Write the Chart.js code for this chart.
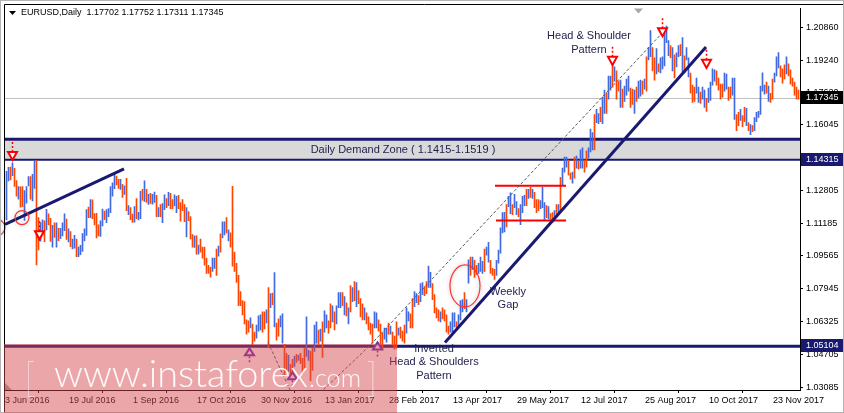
<!DOCTYPE html>
<html>
<head>
<meta charset="utf-8">
<script src="https://cdn.jsdelivr.net/npm/chart.js@4.4.1/dist/chart.umd.min.js"></script>
<style>
  html, body { margin: 0; padding: 0; background: #fff; }
  canvas { display: block; }
</style>
</head>
<body>
<canvas id="chart" width="844" height="413"></canvas>
<script>
// EURUSD daily bars, 3 Jun 2016 .. 11 Dec 2017 (one entry per trading day)
const highs = [
  1.1374,1.1394,1.1395,1.1416,1.1389,1.1328,1.1299,1.1298,1.1299,1.1279,1.1299,1.1348,1.1348,1.1359,1.1427,1.1427,1.1146,1.1121,1.1135,1.1129,
  1.1186,1.1164,1.1142,1.1107,1.1120,1.1120,1.1093,1.1092,1.1120,1.1164,1.1138,1.1090,1.1076,1.1040,1.1058,1.1040,1.1000,1.1009,1.1066,1.1090,1.1185,
  1.1198,1.1234,1.1233,1.1165,1.1167,1.1110,1.1129,1.1187,1.1178,1.1185,1.1190,1.1299,1.1317,1.1366,1.1351,1.1334,1.1335,1.1310,1.1303,1.1340,1.1205,1.1195,1.1163,
  1.1200,1.1240,1.1171,1.1275,1.1285,1.1327,1.1285,1.1260,1.1265,1.1260,1.1272,1.1255,1.1195,1.1210,1.1215,1.1258,1.1240,1.1270,1.1265,1.1235,1.1258,1.1250,
  1.1255,1.1220,1.1235,1.1210,1.1195,1.1175,1.1150,1.1062,1.1055,1.1055,1.1010,1.1040,1.1000,1.1000,1.0945,1.0910,1.0900,1.0945,1.0945,1.0990,1.1005,
  1.1065,1.1125,1.1125,1.1145,1.1085,1.1070,1.1300,1.0975,1.0920,1.0860,1.0780,1.0735,1.0730,1.0640,1.0635,1.0650,1.0620,1.0580,1.0615,1.0660,1.0665,1.0680,
  1.0680,1.0690,1.0800,1.0770,1.0772,1.0874,1.0625,1.0645,1.0660,1.0670,1.0520,1.0475,1.0465,1.0420,1.0445,1.0460,1.0470,1.0465,1.0475,1.0450,1.0500,1.0655,
  1.0490,1.0485,1.0500,1.0615,1.0630,1.0590,1.0595,1.0630,1.0685,1.0665,1.0635,1.0720,1.0710,1.0680,1.0710,1.0775,1.0775,1.0775,1.0755,1.0725,1.0700,1.0810,
  1.0800,1.0829,1.0825,1.0785,1.0745,1.0720,1.0700,1.0675,1.0655,1.0625,1.0620,1.0680,1.0675,1.0640,1.0620,1.0575,1.0600,1.0600,1.0625,1.0610,
  1.0580,1.0560,1.0630,1.0600,1.0605,1.0585,1.0615,1.0700,1.0680,1.0670,1.0745,1.0780,1.0770,1.0760,1.0820,1.0825,1.0805,1.0830,1.0906,1.0875,1.0820,1.0765,1.0700,
  1.0690,1.0680,1.0700,1.0690,1.0665,1.0610,1.0630,1.0675,1.0675,1.0630,1.0665,1.0735,1.0740,1.0775,1.0740,1.0937,1.0950,1.0950,1.0935,1.0910,
  1.0920,1.0950,1.0930,1.0990,1.1000,1.1023,1.0935,1.0895,1.0890,1.0935,1.0985,1.1095,1.1170,1.1172,1.1210,1.1250,1.1268,1.1210,1.1260,1.1225,1.1190,1.1210,
  1.1250,1.1255,1.1285,1.1285,1.1295,1.1285,1.1270,1.1235,1.1235,1.1230,1.1295,1.1220,1.1205,1.1200,1.1165,1.1170,1.1180,1.1210,1.1210,1.1345,1.1390,1.1445,
  1.1445,1.1430,1.1365,1.1370,1.1445,1.1450,1.1425,1.1480,1.1490,1.1430,1.1475,1.1490,1.1583,1.1565,1.1655,1.1680,1.1660,1.1690,1.1740,1.1775,1.1760,
  1.1845,1.1845,1.1910,1.1890,1.1870,1.1820,1.1825,1.1780,1.1795,1.1830,1.1845,1.1785,1.1780,1.1775,1.1790,1.1820,1.1825,1.1820,1.1830,1.1940,1.1985,1.2070,1.1985,
  1.1935,1.1980,1.1905,1.1935,1.1940,1.2060,1.2092,1.2020,1.1995,1.1985,1.1950,1.1960,1.1995,1.2000,1.2035,1.1945,1.1985,1.1935,1.1860,1.1800,1.1790,
  1.1835,1.1790,1.1765,1.1790,1.1775,1.1735,1.1785,1.1815,1.1880,1.1875,1.1870,1.1835,1.1805,1.1805,1.1860,1.1855,1.1790,1.1790,1.1835,1.1835,1.1655,1.1665,
  1.1680,1.1650,1.1690,1.1685,1.1615,1.1605,1.1600,1.1640,1.1665,1.1670,1.1795,1.1861,1.1800,1.1815,1.1795,1.1760,1.1830,1.1860,1.1940,1.1961,1.1895,1.1880,
  1.1900,1.1940,1.1905,1.1875,1.1835,1.1815,1.1790,1.17752
];
const lows = [
  1.1134,1.1327,1.1332,1.1353,1.1300,1.1251,1.1236,1.1197,1.1199,1.1131,1.1217,1.1302,1.1237,1.1228,1.1290,1.0912,1.0986,1.1029,1.1061,1.1027,
  1.1085,1.1109,1.1028,1.1000,1.1048,1.0999,1.1032,1.1041,1.1055,1.1081,1.1038,1.1025,1.1002,1.0991,1.0995,1.0952,1.0953,1.0962,1.0978,1.1030,1.1057,
  1.1145,1.1145,1.1140,1.1109,1.1045,1.1055,1.1053,1.1104,1.1135,1.1120,1.1150,1.1170,1.1251,1.1288,1.1307,1.1290,1.1285,1.1245,1.1260,1.1180,1.1160,1.1135,1.1122,
  1.1123,1.1140,1.1134,1.1140,1.1230,1.1225,1.1220,1.1210,1.1215,1.1212,1.1220,1.1150,1.1150,1.1150,1.1120,1.1185,1.1195,1.1205,1.1190,1.1190,1.1203,1.1170,
  1.1190,1.1128,1.1180,1.1125,1.1050,1.1130,1.1040,1.1000,1.0998,1.0965,1.0965,1.0975,1.0945,1.0910,1.0870,1.0870,1.0851,1.0880,1.0895,1.0860,1.0955,
  1.0975,1.1045,1.1060,1.1070,1.1030,1.1000,1.0905,1.0880,1.0825,1.0710,1.0710,1.0665,1.0620,1.0570,1.0580,1.0600,1.0518,1.0535,1.0550,1.0585,1.0590,1.0580,
  1.0595,1.0625,1.0505,1.0700,1.0715,1.0605,1.0540,1.0560,1.0605,1.0525,1.0365,1.0395,1.0385,1.0352,1.0370,1.0410,1.0430,1.0440,1.0425,1.0375,1.0400,1.0460,
  1.0440,1.0340,1.0390,1.0485,1.0525,1.0515,1.0535,1.0455,1.0580,1.0600,1.0575,1.0600,1.0630,1.0590,1.0620,1.0700,1.0700,1.0710,1.0665,1.0660,1.0620,1.0680,
  1.0730,1.0735,1.0705,1.0720,1.0655,1.0640,1.0640,1.0620,1.0590,1.0570,1.0525,1.0600,1.0600,1.0585,1.0520,1.0494,1.0545,1.0530,1.0570,1.0570,
  1.0515,1.0495,1.0500,1.0565,1.0550,1.0535,1.0525,1.0575,1.0635,1.0600,1.0600,1.0705,1.0725,1.0715,1.0730,1.0765,1.0760,1.0770,1.0800,1.0800,1.0740,1.0675,1.0650,
  1.0635,1.0630,1.0645,1.0635,1.0580,1.0570,1.0580,1.0580,1.0605,1.0600,1.0600,1.0640,1.0680,1.0695,1.0680,1.0821,1.0860,1.0890,1.0850,1.0865,
  1.0870,1.0880,1.0870,1.0880,1.0960,1.0925,1.0870,1.0860,1.0840,1.0860,1.0920,1.0970,1.1070,1.1075,1.1100,1.1200,1.1165,1.1160,1.1195,1.1160,1.1150,1.1110,
  1.1170,1.1205,1.1205,1.1240,1.1245,1.1240,1.1195,1.1170,1.1180,1.1190,1.1195,1.1130,1.1145,1.1140,1.1120,1.1120,1.1140,1.1150,1.1170,1.1180,1.1305,1.1370,
  1.1395,1.1355,1.1335,1.1315,1.1340,1.1390,1.1385,1.1390,1.1390,1.1370,1.1395,1.1440,1.1470,1.1480,1.1480,1.1615,1.1610,1.1620,1.1610,1.1660,1.1660,
  1.1730,1.1775,1.1790,1.1820,1.1730,1.1770,1.1690,1.1690,1.1720,1.1750,1.1770,1.1690,1.1705,1.1660,1.1720,1.1735,1.1745,1.1755,1.1780,1.1770,1.1925,1.1940,1.1870,
  1.1825,1.1855,1.1865,1.1860,1.1880,1.1895,1.2010,1.1945,1.1935,1.1870,1.1835,1.1890,1.1940,1.1945,1.1865,1.1860,1.1925,1.1840,1.1760,1.1715,1.1720,
  1.1760,1.1715,1.1710,1.1730,1.1690,1.1670,1.1715,1.1725,1.1800,1.1820,1.1800,1.1775,1.1730,1.1740,1.1770,1.1780,1.1725,1.1735,1.1750,1.1630,1.1575,1.1600,
  1.1625,1.1595,1.1620,1.1600,1.1575,1.1555,1.1570,1.1575,1.1620,1.1640,1.1655,1.1770,1.1755,1.1760,1.1720,1.1715,1.1730,1.1815,1.1845,1.1885,1.1840,1.1810,
  1.1830,1.1855,1.1845,1.1805,1.1795,1.1750,1.1730,1.17311
];
// u = bull bar (close above open), d = bear bar
const barDirs = [
  'uududdudduuuduudduud', 'uddududuuududuuduuuuu', 'dudddduuduuuuuddudududd',
  'uduudududuududuududduu', 'ddddudddududddddduudud', 'uududdddddddddudduuudd',
  'udududduudduddududdduu', 'dduududuudduduuudududu', 'dudddudddduuddduudud',
  'dduddduudduuduudduudddd', 'udddduuuduuuduududdu', 'uuduuddduuuuuduuduuduu',
  'udududdduuududdududuuu', 'ddududuudduuuduuduudu', 'ududduduuudduduududuudd',
  'uduuuuududuududuudddu', 'uduuduuuudddduudduuddu', 'ddududuuuuuududduuuddd',
  'uddddddd'
].join('');

const dateLabels = ['3 Jun 2016', '19 Jul 2016', '1 Sep 2016', '17 Oct 2016', '30 Nov 2016', '13 Jan 2017',
  '28 Feb 2017', '13 Apr 2017', '29 May 2017', '12 Jul 2017', '25 Aug 2017', '10 Oct 2017', '23 Nov 2017'];
const dateTickIdx = [0, 32, 64, 96, 128, 160, 192, 224, 256, 288, 320, 352, 384];
const priceTicks = [1.03085, 1.04705, 1.06325, 1.07945, 1.09565, 1.11185, 1.12805, 1.14425, 1.16045, 1.17620, 1.19240, 1.20860];

const titleText = 'EURUSD,Daily  1.17702 1.17752 1.17311 1.17345';
const lastPrice = 1.17345;
const supportLevel = 1.05104;
const zoneTop = 1.1533;
const zoneBottom = 1.14315;
const zoneText = 'Daily Demand Zone ( 1.1415-1.1519 )';

// drawn objects, as [bar index, price]
const trendLow = [[-0.75, 1.11115], [58.75, 1.13858]];
const trendUp = [[219.25, 1.05288], [349.75, 1.19880]];
const channelLine = [[156.75, 1.0279], [181.75, 1.05141], [327.75, 1.20566]];
const cupLine = [[130.75, 1.05288], [141.75, 1.0294]];
const boxTop = [[244.25, 1.13025], [279.75, 1.13025]];
const boxBottom = [[244.75, 1.11311], [279.75, 1.11311]];
const downArrows = [[2.75, 1.14298], [16.25, 1.10381], [302.75, 1.19000], [327.75, 1.20419], [349.75, 1.18852]];
const upArrows = [[121.25, 1.04995], [142.75, 1.03815], [185.25, 1.05288]];
const gapRing = [229.25, 1.0808];
const smallRings = [[7.75, 1.11458], [-4.75, 1.10968]];
const notes = [
  ['Head & Shoulder', 291.25, 1.20419], ['Pattern', 291.25, 1.19733],
  ['Inverted', 213.75, 1.04946], ['Head & Shoulders', 213.75, 1.04309], ['Pattern', 213.75, 1.03624],
  ['Weekly', 250.75, 1.07786], ['Gap', 250.75, 1.07149]
];

const UP = '#4169E1';
const DOWN = '#FF4500';
const NAVY = '#191970';
const RED = '#FF0000';
const PURPLE = '#6A2FB8';
const SMALL = '9px "Liberation Sans", Arial, sans-serif';
const NOTE = '11px "Liberation Sans", Arial, sans-serif';

const pts = arr => arr.map(p => ({ x: p[0], y: p[1] }));
const lineSet = (arr, color, width, dash) => ({
  type: 'line', data: pts(arr), borderColor: color, borderWidth: width,
  borderDash: dash || [], pointRadius: 0, fill: false, order: 1
});

function downArrow(ctx, x, tip) {
  ctx.save();
  ctx.strokeStyle = RED;
  ctx.lineWidth = 1.5;
  ctx.setLineDash([2, 2]);
  ctx.beginPath(); ctx.moveTo(x, tip - 18); ctx.lineTo(x, tip - 8); ctx.stroke();
  ctx.setLineDash([]);
  ctx.lineWidth = 2;
  ctx.beginPath();
  ctx.moveTo(x - 4.5, tip - 8); ctx.lineTo(x + 4.5, tip - 8); ctx.lineTo(x, tip); ctx.closePath();
  ctx.fillStyle = '#fff'; ctx.fill(); ctx.stroke();
  ctx.restore();
}

function upArrow(ctx, x, tip) {
  ctx.save();
  ctx.strokeStyle = PURPLE;
  ctx.lineWidth = 1.5;
  ctx.setLineDash([2, 2]);
  ctx.beginPath(); ctx.moveTo(x, tip + 8); ctx.lineTo(x, tip + 16); ctx.stroke();
  ctx.setLineDash([]);
  ctx.lineWidth = 2;
  ctx.beginPath();
  ctx.moveTo(x - 4.5, tip + 7); ctx.lineTo(x + 4.5, tip + 7); ctx.lineTo(x, tip); ctx.closePath();
  ctx.fillStyle = '#fff'; ctx.fill(); ctx.stroke();
  ctx.restore();
}

function ring(ctx, x, y, rx, ry) {
  ctx.save();
  ctx.shadowColor = 'rgba(0,0,0,0.3)';
  ctx.shadowBlur = 4;
  ctx.strokeStyle = '#FF3030';
  ctx.lineWidth = 1.2;
  ctx.beginPath(); ctx.ellipse(x, y, rx, ry, 0, 0, Math.PI * 2); ctx.stroke();
  ctx.restore();
}

function fitFont(ctx, text, weight, family, width, guess) {
  ctx.font = weight + ' ' + guess + 'px ' + family;
  const size = guess * width / ctx.measureText(text).width;
  ctx.font = weight + ' ' + size + 'px ' + family;
}

function priceBox(ctx, area, yScale, value, bg) {
  const y = Math.round(yScale.getPixelForValue(value));
  ctx.fillStyle = bg;
  ctx.fillRect(area.right + 1, y - 7, 43, 13);
  ctx.fillStyle = '#fff';
  ctx.font = SMALL;
  ctx.textAlign = 'left';
  ctx.textBaseline = 'middle';
  ctx.fillText(value.toFixed(5), area.right + 6, y);
}

const levelsPlugin = {
  id: 'levels',
  beforeDatasetsDraw(chart) {
    const { ctx, chartArea: a, scales: { y } } = chart;
    ctx.save();
    // demand zone
    const zt = y.getPixelForValue(zoneTop), zb = y.getPixelForValue(zoneBottom);
    ctx.fillStyle = '#D9D9D9';
    ctx.fillRect(a.left, zt, a.right - a.left, zb - zt);
    ctx.strokeStyle = NAVY;
    ctx.lineWidth = 3;
    ctx.beginPath(); ctx.moveTo(a.left, zt); ctx.lineTo(a.right, zt); ctx.stroke();
    ctx.lineWidth = 2;
    ctx.beginPath(); ctx.moveTo(a.left, zb); ctx.lineTo(a.right, zb); ctx.stroke();
    ctx.fillStyle = '#1E1E50';
    ctx.font = NOTE;
    ctx.textAlign = 'center';
    ctx.textBaseline = 'middle';
    ctx.fillText(zoneText, chart.scales.x.getPixelForValue(198.25), (zt + zb) / 2 + 0.5);
    // current bid line
    const lp = Math.round(y.getPixelForValue(lastPrice)) + 0.5;
    ctx.strokeStyle = '#C0C0C0';
    ctx.lineWidth = 1;
    ctx.beginPath(); ctx.moveTo(a.left, lp); ctx.lineTo(a.right, lp); ctx.stroke();
    // support line
    const sp = y.getPixelForValue(supportLevel);
    ctx.strokeStyle = NAVY;
    ctx.lineWidth = 3;
    ctx.beginPath(); ctx.moveTo(a.left, sp); ctx.lineTo(a.right, sp); ctx.stroke();
    ctx.restore();
  },
  afterDatasetsDraw(chart) {
    const { ctx, chartArea: a, scales: { x, y } } = chart;
    ctx.save();
    ring(ctx, x.getPixelForValue(gapRing[0]), y.getPixelForValue(gapRing[1]), 15, 21);
    ring(ctx, x.getPixelForValue(smallRings[0][0]), y.getPixelForValue(smallRings[0][1]), 7, 7);
    ring(ctx, x.getPixelForValue(smallRings[1][0]), y.getPixelForValue(smallRings[1][1]), 8, 8);
    downArrows.forEach(p => downArrow(ctx, Math.round(x.getPixelForValue(p[0])) + 0.5, y.getPixelForValue(p[1])));
    upArrows.forEach(p => upArrow(ctx, Math.round(x.getPixelForValue(p[0])) + 0.5, y.getPixelForValue(p[1])));

    ctx.fillStyle = '#23234F';
    ctx.font = NOTE;
    ctx.textAlign = 'center';
    ctx.textBaseline = 'middle';
    notes.forEach(n => ctx.fillText(n[0], x.getPixelForValue(n[1]), y.getPixelForValue(n[2])));

    // title
    ctx.fillStyle = '#000';
    ctx.beginPath(); ctx.moveTo(9, 11); ctx.lineTo(16, 11); ctx.lineTo(12.5, 15); ctx.closePath(); ctx.fill();
    ctx.font = SMALL;
    ctx.textAlign = 'left';
    ctx.fillText(titleText, 21, 13);

    // shift markers
    ctx.fillStyle = '#A8A8A8';
    ctx.beginPath(); ctx.moveTo(634, a.top); ctx.lineTo(643, a.top); ctx.lineTo(638.5, a.top + 5); ctx.closePath(); ctx.fill();
    ctx.beginPath(); ctx.moveTo(a.left, a.bottom - 7); ctx.lineTo(a.left, a.bottom); ctx.lineTo(a.left + 7, a.bottom); ctx.closePath(); ctx.fill();
    ctx.restore();
  },
  afterDraw(chart) {
    const { ctx, chartArea: a, scales: { y } } = chart;
    ctx.save();
    priceBox(ctx, a, y, lastPrice, '#000');
    priceBox(ctx, a, y, zoneBottom, NAVY);
    priceBox(ctx, a, y, supportLevel, NAVY);

    // frame
    ctx.strokeStyle = '#000';
    ctx.lineWidth = 1;
    ctx.beginPath(); ctx.moveTo(4.5, 413); ctx.lineTo(4.5, 4.5); ctx.lineTo(844, 4.5); ctx.stroke();
    ctx.strokeStyle = '#B4B4B4';
    ctx.strokeRect(0.5, 0.5, 843, 412);

    // watermark
    ctx.fillStyle = 'rgba(213, 70, 78, 0.48)';
    ctx.fillRect(4, 344, 393, 69);
    ctx.fillStyle = 'rgba(255, 255, 255, 0.95)';
    ctx.textAlign = 'left';
    ctx.textBaseline = 'alphabetic';
    const fam = 'Lato, "Open Sans", "Liberation Sans", sans-serif';
    fitFont(ctx, 'www.instaforex', 300, fam, 254, 38);
    ctx.fillText('www.instaforex', 54, 387);
    fitFont(ctx, '.com', 300, fam, 52, 24);
    ctx.fillText('.com', 309, 387);
    ctx.font = '200 40px ' + fam;
    ctx.fillText('[', 24, 392);
    ctx.fillText(']', 366, 392);
    ctx.restore();
  }
};

new Chart(document.getElementById('chart'), {
  type: 'bar',
  data: {
    datasets: [
      {
        type: 'bar',
        data: highs.map((h, i) => ({ x: i, y: [lows[i], h] })),
        backgroundColor: highs.map((h, i) => barDirs[i] === 'u' ? UP : DOWN),
        barThickness: 1,
        borderWidth: 0,
        order: 3
      },
      lineSet(trendLow, NAVY, 3),
      lineSet(trendUp, NAVY, 3),
      lineSet(channelLine, '#5A5A5A', 1, [3, 2]),
      lineSet(cupLine, '#5A5A5A', 1, [3, 2]),
      lineSet(boxTop, RED, 2),
      lineSet(boxBottom, RED, 2)
    ]
  },
  options: {
    responsive: false,
    animation: false,
    devicePixelRatio: 1,
    layout: { padding: { left: 5, top: 5, right: 0, bottom: 0 } },
    plugins: { legend: { display: false }, tooltip: { enabled: false } },
    scales: {
      x: {
        type: 'linear',
        min: -0.75,
        max: 396.75,
        offset: false,
        grid: { drawOnChartArea: false, drawTicks: true, tickLength: 3, color: '#000' },
        border: { display: true, color: '#000' },
        afterBuildTicks: s => { s.ticks = dateTickIdx.map(v => ({ value: v })); },
        afterFit: s => { s.height = 23; },
        ticks: {
          autoSkip: false, maxRotation: 0, align: 'start', labelOffset: -1.5, padding: 2,
          color: '#000', font: { family: '"Liberation Sans", Arial, sans-serif', size: 9 },
          callback: v => dateLabels[dateTickIdx.indexOf(v)]
        }
      },
      y: {
        type: 'linear',
        position: 'right',
        min: 1.02938,
        max: 1.2179,
        grid: { drawOnChartArea: false, drawTicks: true, tickLength: 3, color: '#000' },
        border: { display: true, color: '#000' },
        afterBuildTicks: s => { s.ticks = priceTicks.map(v => ({ value: v })); },
        afterFit: s => { s.width = 44; },
        ticks: {
          autoSkip: false, padding: 3, color: '#000',
          font: { family: '"Liberation Sans", Arial, sans-serif', size: 9 },
          callback: v => v.toFixed(5)
        }
      }
    }
  },
  plugins: [levelsPlugin]
});
</script>
</body>
</html>
